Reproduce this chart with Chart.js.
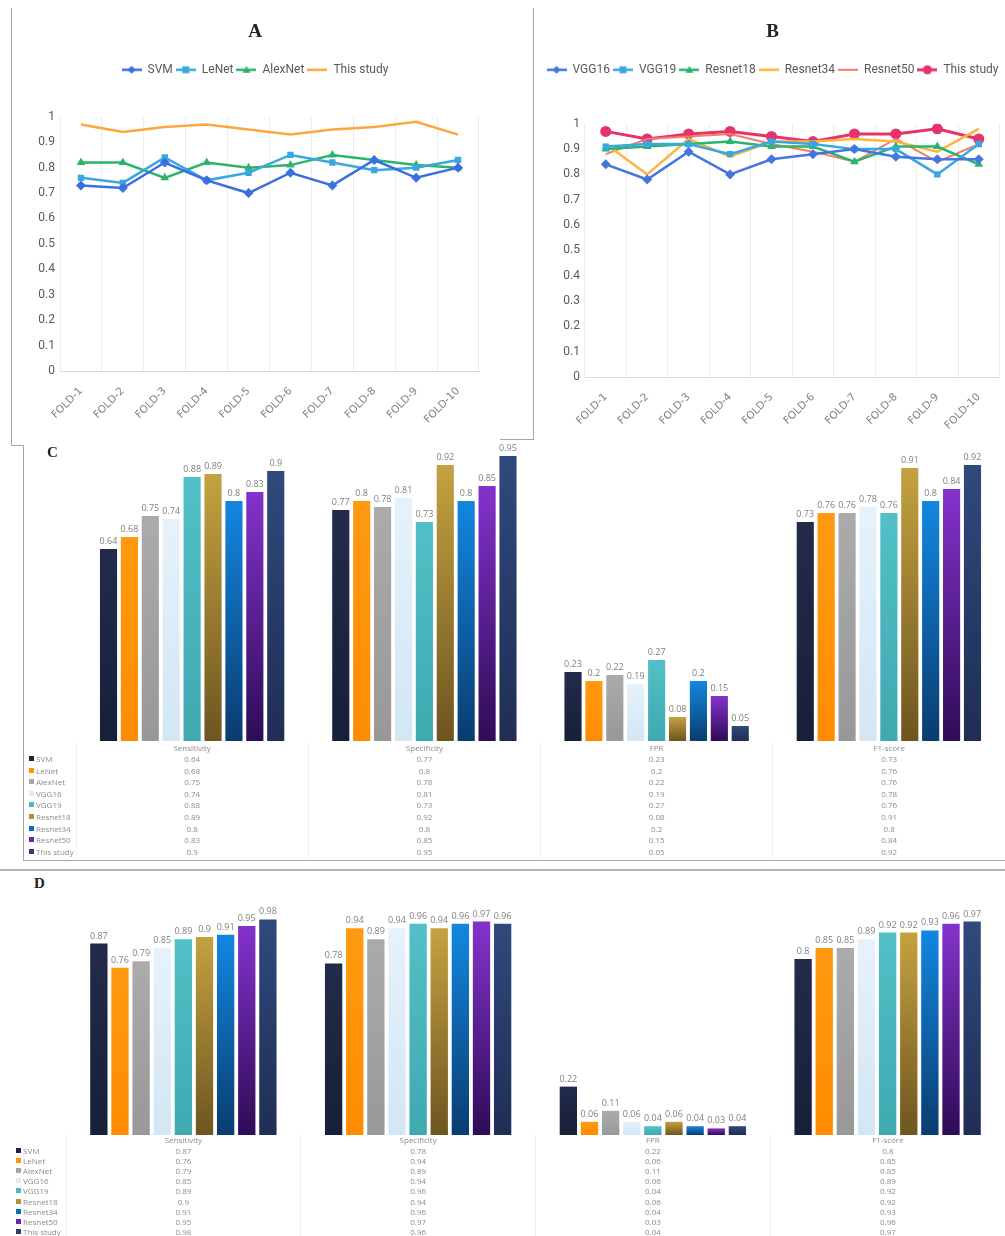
<!DOCTYPE html>
<html lang="en">
<head>
<meta charset="UTF-8">
<title>Model comparison</title>
<script src="https://cdn.jsdelivr.net/npm/chart.js@4.4.1/dist/chart.umd.min.js"></script>
<style>
  body { margin: 0; background: #fff; }
  #page { position: relative; width: 1005px; height: 1236px; overflow: hidden; font-family: "Open Sans", sans-serif; }
  .box { position: absolute; }
  .line { position: absolute; background: #a6a6a6; }
  .letter { position: absolute; font-family: "Liberation Serif", serif; font-weight: bold; color: #222; }
  table.res { position: absolute; border-collapse: collapse; table-layout: fixed; color: #8c8c8c; font-size: 8px; }
  table.res td { padding: 0; text-align: center; white-space: nowrap; overflow: hidden; border-left: 1px solid #f0f0f0; }
  table.res td.name { text-align: left; border-left: none; padding-left: 6px; }
  .sw { display: inline-block; width: 5px; height: 5px; margin-right: 2px; vertical-align: 1px; }
</style>
</head>
<body>
<div id="page">
  <!-- frames around the scanned panels -->
  <div class="line" style="left:11px;top:8px;width:1px;height:437px"></div>
  <div class="line" style="left:533px;top:8px;width:1px;height:431px"></div>
  <div class="line" style="left:500px;top:439px;width:34px;height:1px"></div>
  <div class="line" style="left:11px;top:445px;width:12px;height:1px"></div>
  <div class="line" style="left:23px;top:445px;width:1px;height:415px"></div>
  <div class="line" style="left:23px;top:860px;width:982px;height:1px"></div>
  <div class="line" style="left:0;top:869px;width:1005px;height:2px;background:#b4b4b4"></div>

  <div class="box" style="left:11px;top:8px;width:522px;height:437px"><canvas id="chartA"></canvas></div>
  <div class="box" style="left:534px;top:8px;width:471px;height:437px"><canvas id="chartB"></canvas></div>

  <div class="letter" style="left:47px;top:444px;font-size:15px">C</div>
  <div class="box" style="left:0;top:436px;width:1005px;height:310px"><canvas id="chartC"></canvas></div>
  <table class="res" id="tableC" style="left:23px;top:742px;width:982px"></table>

  <div class="letter" style="left:34px;top:875px;font-size:15px">D</div>
  <div class="box" style="left:0;top:900px;width:1005px;height:240px"><canvas id="chartD"></canvas></div>
  <table class="res" id="tableD" style="left:10px;top:1135px;width:995px"></table>
</div>

<script>
// ---- data ----
const folds = ['FOLD-1', 'FOLD-2', 'FOLD-3', 'FOLD-4', 'FOLD-5', 'FOLD-6', 'FOLD-7', 'FOLD-8', 'FOLD-9', 'FOLD-10'];

// panel A (accuracy per fold)
const aSVM = [0.73, 0.72, 0.82, 0.75, 0.70, 0.78, 0.73, 0.83, 0.76, 0.80];
const aLeNet = [0.76, 0.74, 0.84, 0.75, 0.78, 0.85, 0.82, 0.79, 0.80, 0.83];
const aAlexNet = [0.82, 0.82, 0.76, 0.82, 0.80, 0.81, 0.85, 0.83, 0.81, 0.80];
const aThisStudy = [0.97, 0.94, 0.96, 0.97, 0.95, 0.93, 0.95, 0.96, 0.98, 0.93];

// panel B
const bVGG16 = [0.84, 0.78, 0.89, 0.80, 0.86, 0.88, 0.90, 0.87, 0.86, 0.86];
const bVGG19 = [0.91, 0.92, 0.92, 0.88, 0.93, 0.92, 0.90, 0.90, 0.80, 0.92];
const bResnet18 = [0.90, 0.91, 0.92, 0.93, 0.91, 0.91, 0.85, 0.91, 0.91, 0.84];
const bResnet34 = [0.92, 0.80, 0.94, 0.87, 0.93, 0.93, 0.94, 0.93, 0.89, 0.98];
const bResnet50 = [0.88, 0.94, 0.95, 0.96, 0.92, 0.89, 0.85, 0.94, 0.85, 0.92];
const bThisStudy = [0.97, 0.94, 0.96, 0.97, 0.95, 0.93, 0.96, 0.96, 0.98, 0.94];

// panels C and D (one value per model)
const models = ['SVM', 'LeNet', 'AlexNet', 'VGG16', 'VGG19', 'Resnet18', 'Resnet34', 'Resnet50', 'This study'];
const metrics = ['Sensitivity', 'Specificity', 'FPR', 'F1-score'];

const cSensitivity = [0.64, 0.68, 0.75, 0.74, 0.88, 0.89, 0.8, 0.83, 0.9];
const cSpecificity = [0.77, 0.8, 0.78, 0.81, 0.73, 0.92, 0.8, 0.85, 0.95];
const cFPR = [0.23, 0.2, 0.22, 0.19, 0.27, 0.08, 0.2, 0.15, 0.05];
const cF1 = [0.73, 0.76, 0.76, 0.78, 0.76, 0.91, 0.8, 0.84, 0.92];

const dSensitivity = [0.87, 0.76, 0.79, 0.85, 0.89, 0.9, 0.91, 0.95, 0.98];
const dSpecificity = [0.78, 0.94, 0.89, 0.94, 0.96, 0.94, 0.96, 0.97, 0.96];
const dFPR = [0.22, 0.06, 0.11, 0.06, 0.04, 0.06, 0.04, 0.03, 0.04];
const dF1 = [0.8, 0.85, 0.85, 0.89, 0.92, 0.92, 0.93, 0.96, 0.97];

// ---- styles ----
const barTop = ['#222b4a', '#ff9a10', '#ababab', '#e6f2fb', '#52c0c6', '#c4a240', '#1287e0', '#8432cc', '#30497c'];
const barBottom = ['#181f38', '#ff8c00', '#989898', '#d2e6f4', '#3fa9b0', '#6e5520', '#0a3c70', '#2e0c56', '#1f2e55'];
const swatch = ['#1c2340', '#ff9400', '#a6a6a6', '#dcecf8', '#4bbac0', '#b0923a', '#0a6cc0', '#6a24a8', '#2a3f6e'];

const sans = '"Roboto", sans-serif';

// legend icon: short line with the series marker in the middle
function legendIcon(color, marker, width) {
  const c = document.createElement('canvas');
  c.width = 20; c.height = 12;
  const g = c.getContext('2d');
  g.strokeStyle = color; g.fillStyle = color; g.lineWidth = width;
  g.beginPath(); g.moveTo(0, 6); g.lineTo(20, 6); g.stroke();
  g.beginPath();
  if (marker === 'rectRot') { g.moveTo(10, 2); g.lineTo(14, 6); g.lineTo(10, 10); g.lineTo(6, 6); }
  else if (marker === 'rect') { g.rect(6.5, 2.5, 7, 7); }
  else if (marker === 'triangle') { g.moveTo(10, 2); g.lineTo(14, 9); g.lineTo(6, 9); }
  else if (marker === 'circle') { g.arc(10, 6, 4.5, 0, Math.PI * 2); }
  g.closePath(); g.fill();
  return c;
}

function series(label, data, color, marker, width, radius) {
  return {
    label, data,
    borderColor: color, backgroundColor: color,
    borderWidth: width, tension: 0,
    pointStyle: marker || 'circle',
    pointRadius: marker ? radius : 0,
    pointBorderWidth: 0,
    icon: legendIcon(color, marker, width)
  };
}

const legendGap = {
  id: 'legendGap',
  beforeInit(chart, args, opts) {
    const fit = chart.legend.fit;
    chart.legend.fit = function () {
      fit.bind(chart.legend)();
      this.height += opts.extra;
    };
  }
};

function lineOptions(title, padL, padR, yWidth, xHeight, extra) {
  return {
    responsive: true,
    maintainAspectRatio: false,
    animation: false,
    layout: { padding: { left: padL, right: padR, top: 2, bottom: 0 } },
    plugins: {
      title: {
        display: true, text: title, color: '#222',
        font: { family: '"Liberation Serif", serif', size: 19, weight: 'bold' },
        padding: { top: 11, bottom: 17 }
      },
      legend: {
        labels: {
          usePointStyle: true, pointStyleWidth: 20, padding: 3,
          color: '#595959', font: { family: sans, size: 12 },
          generateLabels: chart => chart.data.datasets.map((ds, i) => ({
            text: ds.label, pointStyle: ds.icon, datasetIndex: i, hidden: false,
            fontColor: '#595959', lineWidth: 0, strokeStyle: 'transparent', fillStyle: 'transparent'
          }))
        }
      },
      legendGap: { extra: extra },
      tooltip: { enabled: false }
    },
    scales: {
      x: {
        offset: true,
        grid: { offset: true, color: '#ececec', drawTicks: false },
        border: { color: '#d9d9d9' },
        ticks: { color: '#808080', minRotation: 45, maxRotation: 45, padding: 14, font: { family: '"DejaVu Sans", sans-serif', size: 10.5 } },
        afterFit: s => { s.height = xHeight; }
      },
      y: {
        min: 0, max: 1,
        grid: { display: false, drawTicks: false },
        border: { display: false },
        ticks: {
          stepSize: 0.1, color: '#595959', padding: 5, font: { family: sans, size: 12 },
          callback: v => String(Math.round(v * 10) / 10)
        },
        afterFit: s => { s.width = yWidth; }
      }
    }
  };
}

new Chart(document.getElementById('chartA'), {
  type: 'line',
  data: {
    labels: folds,
    datasets: [
      series('SVM', aSVM, '#3b6fe0', 'rectRot', 2.5, 5),
      series('LeNet', aLeNet, '#3aa6e2', 'rect', 2.5, 4.5),
      series('AlexNet', aAlexNet, '#2db46c', 'triangle', 2.5, 5),
      series('This study', aThisStudy, '#ffa53c', null, 2.5, 0)
    ]
  },
  options: lineOptions('A', 20, 54, 29, 74, 31),
  plugins: [legendGap]
});

new Chart(document.getElementById('chartB'), {
  type: 'line',
  data: {
    labels: folds,
    datasets: [
      series('VGG16', bVGG16, '#4476e0', 'rectRot', 2.5, 5),
      series('VGG19', bVGG19, '#3aa6e2', 'rect', 2.5, 4.5),
      series('Resnet18', bResnet18, '#2db46c', 'triangle', 2.5, 5),
      series('Resnet34', bResnet34, '#ffb43c', null, 2.5, 0),
      series('Resnet50', bResnet50, '#f47c6c', null, 2, 0),
      series('This study', bThisStudy, '#e6336a', 'circle', 3, 5.5)
    ]
  },
  options: lineOptions('B', 6, 0, 45, 68, 38),
  plugins: [legendGap]
});

// ---- bar panels ----
const valueLabels = {
  id: 'valueLabels',
  afterDatasetsDraw(chart) {
    const ctx = chart.ctx;
    ctx.save();
    ctx.font = '9px "Open Sans", sans-serif';
    ctx.fillStyle = '#7f7f7f';
    ctx.textAlign = 'center';
    ctx.textBaseline = 'bottom';
    chart.data.datasets.forEach((ds, i) => {
      chart.getDatasetMeta(i).data.forEach((bar, j) => {
        ctx.fillText(String(ds.data[j]), bar.x, bar.y - 3);
      });
    });
    ctx.restore();
  }
};

function barFill(i) {
  return c => {
    const y = c.chart.scales.y;
    if (!y || c.raw == null) return barTop[i];
    const top = y.getPixelForValue(c.raw), base = y.getPixelForValue(0);
    if (!isFinite(top) || !isFinite(base) || base - top < 1) return barTop[i];
    const g = c.chart.ctx.createLinearGradient(0, top, 0, base);
    g.addColorStop(0, barTop[i]);
    g.addColorStop(1, barBottom[i]);
    return g;
  };
}

function barChart(id, cols, padL, padT) {
  new Chart(document.getElementById(id), {
    type: 'bar',
    data: {
      labels: metrics,
      datasets: models.map((m, i) => ({
        label: m,
        data: cols.map(col => col[i]),
        backgroundColor: barFill(i),
        borderWidth: 0,
        categoryPercentage: 0.81,
        barPercentage: 0.82
      }))
    },
    options: {
      responsive: true,
      maintainAspectRatio: false,
      animation: false,
      layout: { padding: { left: padL, right: 0, top: padT, bottom: 5 } },
      plugins: { legend: { display: false }, tooltip: { enabled: false } },
      scales: {
        x: { display: false },
        y: { display: false, min: 0, max: 1 }
      }
    },
    plugins: [valueLabels]
  });
}

barChart('chartC', [cSensitivity, cSpecificity, cFPR, cF1], 76, 5);
barChart('chartD', [dSensitivity, dSpecificity, dFPR, dF1], 66, 15);

// ---- data tables under the bars ----
function fillTable(id, cols, firstW, rowH) {
  const t = document.getElementById(id);
  let html = '<colgroup><col style="width:' + firstW + 'px">' + metrics.map(() => '<col>').join('') + '</colgroup>';
  html += '<tr style="height:' + rowH + 'px"><td class="name"></td>' + metrics.map(m => '<td>' + m + '</td>').join('') + '</tr>';
  models.forEach((m, i) => {
    html += '<tr style="height:' + rowH + 'px"><td class="name"><span class="sw" style="background:' + swatch[i] + '"></span>' + m + '</td>' +
      cols.map(col => '<td>' + col[i] + '</td>').join('') + '</tr>';
  });
  t.innerHTML = html;
  t.querySelectorAll('td').forEach(td => { td.style.lineHeight = (rowH - 1) + 'px'; });
}

fillTable('tableC', [cSensitivity, cSpecificity, cFPR, cF1], 53, 11.6);
fillTable('tableD', [dSensitivity, dSpecificity, dFPR, dF1], 56, 10.2);
</script>
</body>
</html>
